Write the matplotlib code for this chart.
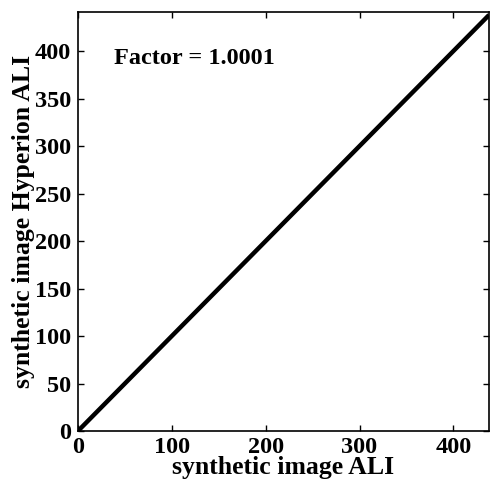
import matplotlib
matplotlib.use("Agg")
import matplotlib.pyplot as plt

x_vals = [0, 438]
y_vals = [0, 438.04]
xticks = [0, 100, 200, 300, 400]
yticks = [0, 50, 100, 150, 200, 250, 300, 350, 400]
annotation = "Factor = 1.0001"

plt.rcParams['font.family'] = ['Liberation Serif', 'DejaVu Serif']
plt.rcParams['font.weight'] = 'bold'

fig = plt.figure(figsize=(4.93, 4.86), dpi=100)
ax = fig.add_axes([0.158, 0.113, 0.834, 0.862])
ax.plot(x_vals, y_vals, color='black', lw=3.2, solid_capstyle='butt')
ax.set_xlim(0, 438)
ax.set_ylim(0, 441)
ax.set_xticks(xticks)
ax.set_yticks(yticks)
ax.tick_params(direction='in', top=True, right=True, length=4, width=1,
               labelsize=17.5)
ax.tick_params(axis='x', pad=4)
ax.tick_params(axis='y', pad=5)
for lab in ax.get_xticklabels() + ax.get_yticklabels():
    lab.set_fontweight('bold')
for s in ax.spines.values():
    s.set_linewidth(1.2)
ax.set_xlabel("synthetic image ALI", fontsize=18.5, fontweight='bold', labelpad=-1)
ax.set_ylabel("synthetic image Hyperion ALI", fontsize=18.5, fontweight='bold', labelpad=0)
ax.text(0.087, 0.89, annotation, transform=ax.transAxes, fontsize=17.5,
        fontweight='bold', va='center', ha='left')
fig.savefig("out.png", dpi=100)
